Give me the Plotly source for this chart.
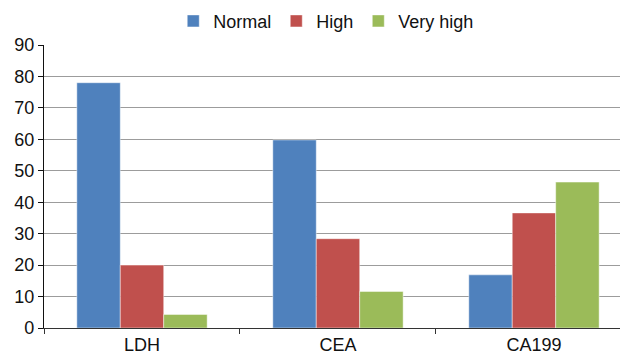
import plotly.graph_objects as go

# Marker categories and the share of patients in each level (%)
markers = ["LDH", "CEA", "CA199"]
normal = [78.0, 59.8, 16.9]
high = [20.0, 28.4, 36.6]
very_high = [4.3, 11.6, 46.4]

series = [
    ("Normal", normal, "#4F81BD"),
    ("High", high, "#C0504D"),
    ("Very high", very_high, "#9BBB59"),
]

y_ticks = list(range(0, 91, 10))

font_family = "Liberation Sans, Arial, Helvetica, sans-serif"

fig = go.Figure()
for name, values, color in series:
    fig.add_trace(go.Bar(
        name=name,
        x=markers,
        y=values,
        marker=dict(color=color, line=dict(color="rgba(255,255,255,0.45)", width=1)),
    ))

fig.update_layout(
    width=620,
    height=356,
    barmode="group",
    bargap=0.335,
    bargroupgap=0,
    plot_bgcolor="white",
    paper_bgcolor="white",
    margin=dict(l=44, r=0, t=45, b=28, pad=0),
    font=dict(family=font_family, size=18, color="#111111"),
    showlegend=True,
    legend=dict(
        orientation="h",
        x=0.49,
        xanchor="center",
        y=1.084,
        yanchor="middle",
        font=dict(size=18, color="#111111"),
        itemwidth=30,
        traceorder="normal",
        bgcolor="rgba(0,0,0,0)",
    ),
    xaxis=dict(
        type="category",
        range=[-0.5, 2.439],
        showgrid=False,
        showline=True,
        linecolor="#333333",
        linewidth=1.2,
        ticks="outside",
        tickson="boundaries",
        ticklen=5,
        tickcolor="#333333",
        tickfont=dict(size=18),
        automargin=False,
        fixedrange=True,
    ),
    yaxis=dict(
        range=[0, 90],
        tickvals=y_ticks,
        showgrid=True,
        gridcolor="#9c9c9c",
        gridwidth=1.2,
        showline=True,
        linecolor="#111111",
        linewidth=1.2,
        ticks="outside",
        ticklen=5,
        tickcolor="#111111",
        tickfont=dict(size=18),
        zeroline=False,
        automargin=False,
        fixedrange=True,
    ),
)

fig.write_html("out.html")
